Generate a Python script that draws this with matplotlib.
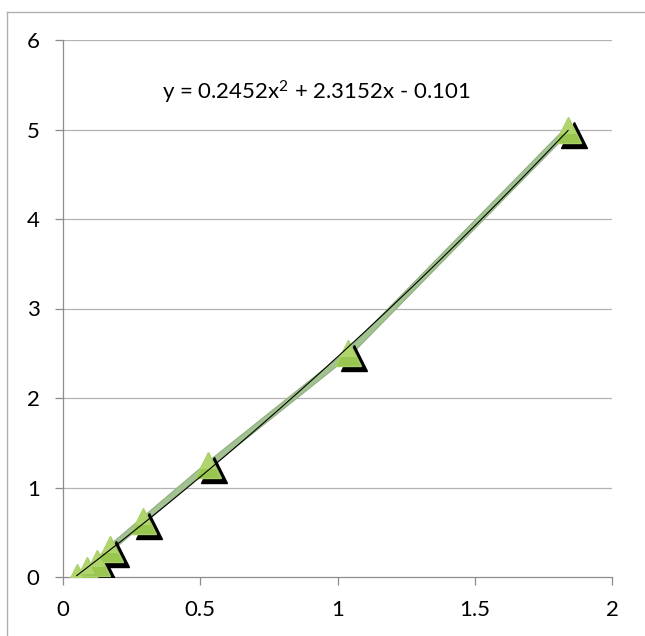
"""Standard curve: scatter of triangles with connecting line and quadratic trendline."""
import matplotlib

matplotlib.use("Agg")
import matplotlib.pyplot as plt
import matplotlib.transforms as mtransforms
from matplotlib.lines import Line2D
import numpy as np

# data
absorbance = [0.05, 0.088, 0.123, 0.17, 0.29, 0.53, 1.04, 1.84]
concentration = [0.0, 0.078, 0.156, 0.3125, 0.625, 1.25, 2.5, 5.0]
trend_coef = [0.2452, 2.3152, -0.101]
trend_label = r"y = 0.2452x$^\mathrm{2}$ + 2.3152x - 0.101"
x_ticks = [0, 0.5, 1, 1.5, 2]
x_ticklabels = ["0", "0.5", "1", "1.5", "2"]
y_ticks = [0, 1, 2, 3, 4, 5, 6]

W, H = 645, 636
plt.rcParams["font.family"] = ["Lato", "DejaVu Sans"]
plt.rcParams["mathtext.fontset"] = "custom"
plt.rcParams["mathtext.rm"] = "Lato"
plt.rcParams["mathtext.it"] = "Lato:italic"

fig = plt.figure(figsize=(W / 100, H / 100), dpi=100)
ax = fig.add_axes([63 / W, (H - 577) / H, (612 - 63) / W, (577 - 40) / H])

# outer chart border (top and left only visible)
fig.add_artist(Line2D([7 / W, 7 / W], [0, (H - 12) / H], color="#b0b0b0", lw=1.0))
fig.add_artist(Line2D([7 / W, 1], [(H - 12) / H, (H - 12) / H], color="#b0b0b0", lw=1.0))

ax.set_xlim(0, 2)
ax.set_ylim(0, 6)
for yv in y_ticks[1:]:
    ax.axhline(yv, color="#b3b3b3", lw=0.9, zorder=0)

for s in ("top", "right"):
    ax.spines[s].set_visible(False)
for s in ("left", "bottom"):
    ax.spines[s].set_color("#8c8c8c")
    ax.spines[s].set_linewidth(0.9)

ax.set_xticks(x_ticks)
ax.set_xticklabels(x_ticklabels)
ax.set_yticks(y_ticks)
ax.tick_params(axis="both", direction="out", length=5.8, width=0.9,
               color="#8c8c8c", labelsize=16, pad=11)

# series line
ax.plot(absorbance, concentration, color="#8fb07e", lw=5.0,
        solid_capstyle="round", zorder=2)
ax.plot(absorbance, concentration, color="#a3c292", lw=3.4,
        solid_capstyle="round", zorder=2.1)

ms = 19

# marker shadows
shadow = mtransforms.offset_copy(ax.transData, fig=fig, x=6, y=-5, units="dots")
ax.plot(absorbance, concentration, ls="none", marker="^", ms=ms,
        mfc="black", mec="black", mew=1.0, transform=shadow, zorder=3)

# markers: base triangle plus a lighter inner triangle towards the apex
ax.plot(absorbance, concentration, ls="none", marker="^", ms=ms,
        mfc="#99c64f", mec="#a8cf6a", mew=1.0, zorder=4)
frac = 0.6
shift = (ms - ms * frac) / 2 * 100 / 72 - 1.5
tr = mtransforms.offset_copy(ax.transData, fig=fig, x=0, y=shift, units="dots")
ax.plot(absorbance, concentration, ls="none", marker="^", ms=ms * frac,
        mfc="#b0d56d", mew=0, transform=tr, zorder=4.1)

# polynomial trendline
xt = np.linspace(min(absorbance), max(absorbance), 200)
ax.plot(xt, np.polyval(trend_coef, xt), color="black", lw=0.8, zorder=5)

fig.text(162 / W, (H - 100) / H, trend_label, fontsize=16, ha="left", va="baseline")

fig.savefig("out.png", dpi=100)
